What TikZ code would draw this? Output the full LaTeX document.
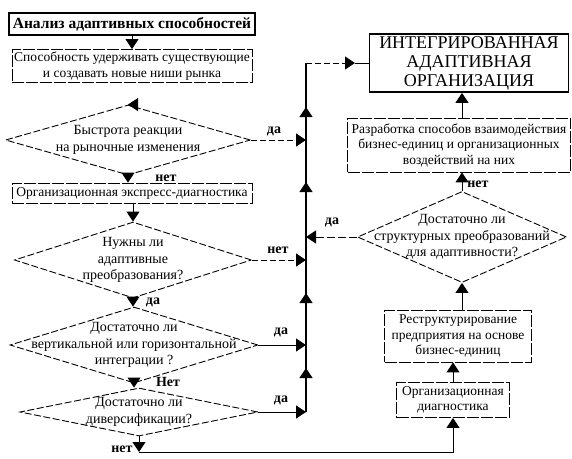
\documentclass[tikz,border=0pt]{standalone}
\usepackage{fontspec}
\setmainfont{Liberation Serif}
\usetikzlibrary{arrows.meta,shapes.geometric,decorations.markings}

\begin{document}
\begin{tikzpicture}[x=1pt,y=-1pt,
  box/.style={draw,dash pattern=on 12pt off 2pt,line width=0.9pt,align=center,inner sep=1pt,font=\fontsize{13.5}{15.5}\selectfont},
  hbox/.style={draw,line width=1.8pt,align=center,inner sep=1pt},
  diam/.style={draw,diamond,dash pattern=on 7pt off 2.5pt,line width=0.9pt,inner sep=0pt},
  dtext/.style={align=center,font=\fontsize{14}{16.5}\selectfont},
  lbl/.style={font=\fontsize{14}{14}\selectfont\bfseries},
  arr/.style={line width=1pt,-{Triangle[width=13pt,length=10pt]}},
]
  \useasboundingbox (0,0) rectangle (572,458);

  % left column
  \node[hbox,minimum width=246pt,minimum height=22pt,font=\fontsize{15.5}{15.5}\selectfont\bfseries] (anl) at (132,24) {Анализ адаптивных способностей};
  \node[box,minimum width=240pt,minimum height=33pt] (nis) at (132,66) {Способность удерживать существующие\\и создавать новые ниши рынка};
  \node[diam,minimum width=245pt,minimum height=70pt,label={[dtext]center:{Быстрота реакции\\на рыночные изменения}}] (d1) at (128,140) {};
  \node[box,minimum width=240pt,minimum height=20pt] (exp) at (132,193) {Организационная экспресс-диагностика};
  \node[diam,minimum width=237pt,minimum height=76pt,label={[dtext]center:{Нужны ли\\адаптивные\\преобразования?}}] (d2) at (133,260) {};
  \node[diam,minimum width=248pt,minimum height=76pt,label={[dtext]center:{Достаточно ли\\вертикальной или горизонтальной\\интеграции ?}}] (d3) at (134,345) {};
  \node[diam,minimum width=238pt,minimum height=48pt,label={[dtext]center:{Достаточно ли\\диверсификации?}}] (d4) at (139,412) {};

  % right column
  \node[hbox,minimum width=199pt,minimum height=58pt,font=\fontsize{18}{19}\selectfont] (iao) at (469,63) {ИНТЕГРИРОВАННАЯ\\АДАПТИВНАЯ\\ОРГАНИЗАЦИЯ};
  \node[box,minimum width=223pt,minimum height=54pt] (raz) at (459,145) {Разработка способов взаимодействия\\бизнес-единиц и организационных\\воздействий на них};
  \node[diam,minimum width=209pt,minimum height=91pt,label={[dtext]center:{Достаточно ли\\структурных преобразований\\для адаптивности?}}] (d5) at (462,237) {};
  \node[box,minimum width=147pt,minimum height=52pt] (res) at (458,336) {Реструктурирование\\предприятия на основе\\бизнес-единиц};
  \node[box,minimum width=113pt,minimum height=35pt] (ord) at (453,400) {Организационная\\диагностика};

  % labels
  \node[lbl] (y1) at (274,131) {да};
  \node[lbl] (n1) at (166,178) {нет};
  \node[lbl] (n2) at (278,250) {нет};
  \node[lbl] (y2) at (153,302) {да};
  \node[lbl] (y3) at (281,332) {да};
  \node[lbl] (n3) at (168,382) {Нет};
  \node[lbl] (y4) at (281,400) {да};
  \node[lbl] (n4) at (122,449) {нет};
  \node[lbl] (n5) at (478,184) {нет};
  \node[lbl] (y5) at (332,222) {да};

  \coordinate (vx) at (306,0);
  \coordinate (bot) at (0,452);
  \coordinate (j1) at (d1.east -| vx);
  \coordinate (j2) at (d2.east -| vx);
  \coordinate (j3) at (d3.east -| vx);
  \coordinate (j4) at (d4.east -| vx);
  \coordinate (j5) at (d5.west -| vx);
  \coordinate (vtop) at (iao.west -| vx);
  \coordinate (itip) at (355,63);
  \coordinate (bl) at (d4.south |- bot);

  % down the left column
  \draw[arr] (anl.south -| nis.north) -- (nis.north);
  \draw[arr] (d1.north -| nis.south) -- (d1.north);
  \draw[arr] (d1.south) -- (d1.south |- exp.north);
  \draw[arr] (exp.south -| d2.north) -- (d2.north);
  \draw[arr] (d2.south) -- (d2.south |- d3.north);
  \draw[arr] (d3.south) -- (d3.south |- d4.north);
  \draw[arr] (d4.south) -- (bl);
  \draw[arr] (bl) -| (ord.south);

  % into the collecting line
  \draw[arr,dash pattern=on 6pt off 3pt] (d1.east) -- (j1);
  \draw[arr,dash pattern=on 6pt off 3pt] (d2.east) -- (j2);
  \draw[arr] (d3.east) -- (j3);
  \draw[arr] (d4.east) -- (j4);
  \draw[arr,dash pattern=on 8pt off 3pt] (d5.west) -- (j5);

  % collecting line up to the goal
  \draw[line width=1.2pt,postaction={decorate},decoration={markings,
      mark=at position 44pt with {\arrow{Triangle[width=13pt,length=10pt]}},
      mark=at position 119pt with {\arrow{Triangle[width=13pt,length=10pt]}},
      mark=at position 230pt with {\arrow{Triangle[width=13pt,length=10pt]}},
      mark=at position 305pt with {\arrow{Triangle[width=13pt,length=10pt]}}}]
    (j4) -- (vtop);
  \draw[arr,dash pattern=on 6pt off 3pt] (vtop) -- (itip);
  \draw[line width=1pt] (itip) -- (iao.west);

  % up the right column
  \draw[arr] (ord.north) -- (ord.north |- res.south);
  \draw[arr] (res.north -| d5.south) -- (d5.south);
  \draw[arr] (d5.north) -- (d5.north |- raz.south);
  \draw[arr] (raz.north -| d5.north) -- (iao.south -| d5.north);
\end{tikzpicture}
\end{document}
